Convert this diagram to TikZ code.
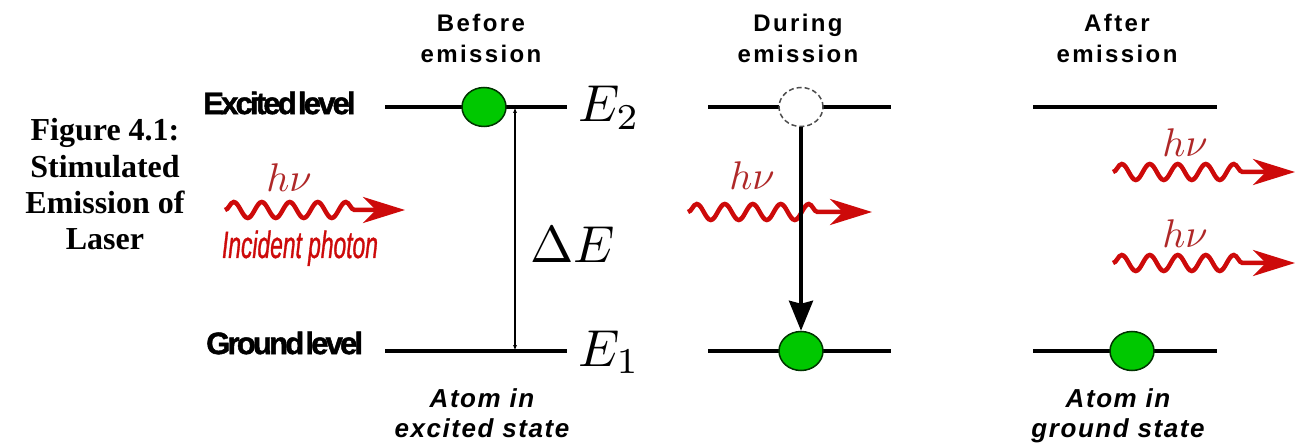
\documentclass[tikz,border=0pt]{standalone}
\usepackage[no-math]{fontspec}
\setmainfont{Liberation Serif}
\newfontfamily\titlefont[LetterSpace=10]{Liberation Sans}
\newfontfamily\statefont[LetterSpace=6]{Liberation Sans}
\newfontfamily\levelfont[LetterSpace=-9,WordSpace=0.2,FakeBold=1.5]{Liberation Sans}
\newfontfamily\photonfont[FakeStretch=0.6,FakeBold=0.8]{Liberation Sans}
\usetikzlibrary{arrows.meta,decorations.pathmorphing,shapes.geometric,positioning}

\definecolor{atomgreen}{RGB}{0,200,0}
\definecolor{photonred}{RGB}{205,10,10}
\definecolor{hnured}{RGB}{175,40,40}

\newcommand{\bigmath}[2]{\scalebox{#1}{$#2$}}

\tikzset{
    level/.style={line width=3.5pt},
    atom/.style={ellipse, draw=black!80!green, line width=1.5pt, fill=atomgreen,
        minimum width=44pt, minimum height=39pt, inner sep=0pt},
    hole/.style={atom, fill=white, draw=black!70, dash pattern=on 5pt off 3pt},
    photon/.style={photonred, line width=4.5pt, decorate,
        decoration={snake, segment length=28pt, amplitude=8pt, post length=46pt},
        -{Stealth[length=42pt,width=26pt,inset=13pt]}},
    decay/.style={line width=3.5pt, -{Stealth[length=30pt,width=24pt,inset=3pt]}},
    gap/.style={line width=1.2pt, {Latex[length=6pt,width=4pt]}-{Latex[length=6pt,width=4pt]}},
    caption/.style={anchor=base, inner sep=0pt, font=\bfseries\fontsize{32}{36}\selectfont},
    title/.style={anchor=base, inner sep=0pt, font=\titlefont\bfseries\fontsize{24}{28}\selectfont},
    statelabel/.style={anchor=base, inner sep=0pt, font=\statefont\bfseries\itshape\fontsize{26}{30}\selectfont},
    levellabel/.style={anchor=west, inner sep=0pt, font=\levelfont\bfseries\fontsize{31}{34}\selectfont},
    elabel/.style={anchor=base west, inner sep=0pt},
    hnu/.style={anchor=base, inner sep=0pt, text=hnured},
}

\begin{document}
\begin{tikzpicture}[x=1pt, y=-1pt]
    \useasboundingbox (0,0) rectangle (1297,443);

    % caption
    \foreach \txt [count=\i] in {Figure 4.1:, Stimulated, Emission of, Laser}{
        \node[caption] (cap\i) at (105, {141+36.3*(\i-1)}) {\txt};
    }

    \node[levellabel] (excited) at (203,103) {Excited level};
    \node[levellabel] (ground) at (206,343) {Ground level};

    % the two levels of each stage
    \foreach \col/\xl/\xr/\xt/\word in {%
        before/385/567/481/Before,
        during/708/891/798/During,
        after/1033/1217/1117/After%
        }{
        \coordinate (\col-E2-l) at (\xl,107);
        \coordinate (\col-E2-r) at (\xr,107);
        \coordinate (\col-E1-l) at (\xl,351);
        \coordinate (\col-E1-r) at (\xr,351);
        \draw[level] (\col-E2-l) -- (\col-E2-r);
        \draw[level] (\col-E1-l) -- (\col-E1-r);

        \node[title] (\col-title) at (\xt,32) {\word};
        \node[title] (\col-title2) at (\xt,63) {emission};
    }

    % before emission
    \coordinate (gap-top) at (515,107);
    \coordinate (gap-bot) at (515,351);
    \draw[gap] (gap-top) -- (gap-bot);
    \node[atom] (atom-before) at (484,107) {};
    \node[elabel] (E2) at (578,122) {\bigmath{5.2}{E_2}};
    \node[elabel] (E1) at (578,366) {\bigmath{5.2}{E_1}};
    \node[elabel] (dE) at (530,263) {\bigmath{5.2}{\Delta E}};

    \coordinate (in-s) at (225,210);
    \coordinate (in-e) at (405,210);
    \draw[photon] (in-s) -- (in-e);
    \node[hnu] (hnu-in) at (289,192) {\bigmath{4}{h\nu}};
    \node[anchor=base, inner sep=0pt, text=photonred,
        font=\photonfont\itshape\fontsize{38}{42}\selectfont] (incident) at (300,258) {Incident photon};
    \node[statelabel] (before-lbl1) at (482,407) {Atom in};
    \node[statelabel] (before-lbl2) at (482,437) {excited state};

    % during emission
    \coordinate (dur-s) at (688,212);
    \coordinate (dur-e) at (872,212);
    \draw[photon] (dur-s) -- (dur-e);
    \node[hnu] (hnu-dur) at (752,190) {\bigmath{4}{h\nu}};
    \node[hole] (atom-during-up) at (801,107) {};
    \node[atom] (atom-during) at (801,351) {};
    \draw[decay] (atom-during-up) -- (atom-during);

    % after emission
    \node[atom] (atom-after) at (1132,351) {};
    \foreach \y/\k in {172/1, 263/2}{
        \coordinate (out\k-s) at (1113,\y);
        \coordinate (out\k-e) at (1295,\y);
        \draw[photon] (out\k-s) -- (out\k-e);
        \node[hnu] (hnu-out\k) at (1185,\y-15) {\bigmath{4}{h\nu}};
    }
    \node[statelabel] (after-lbl1) at (1118,407) {Atom in};
    \node[statelabel] (after-lbl2) at (1118,437) {ground state};
\end{tikzpicture}
\end{document}
